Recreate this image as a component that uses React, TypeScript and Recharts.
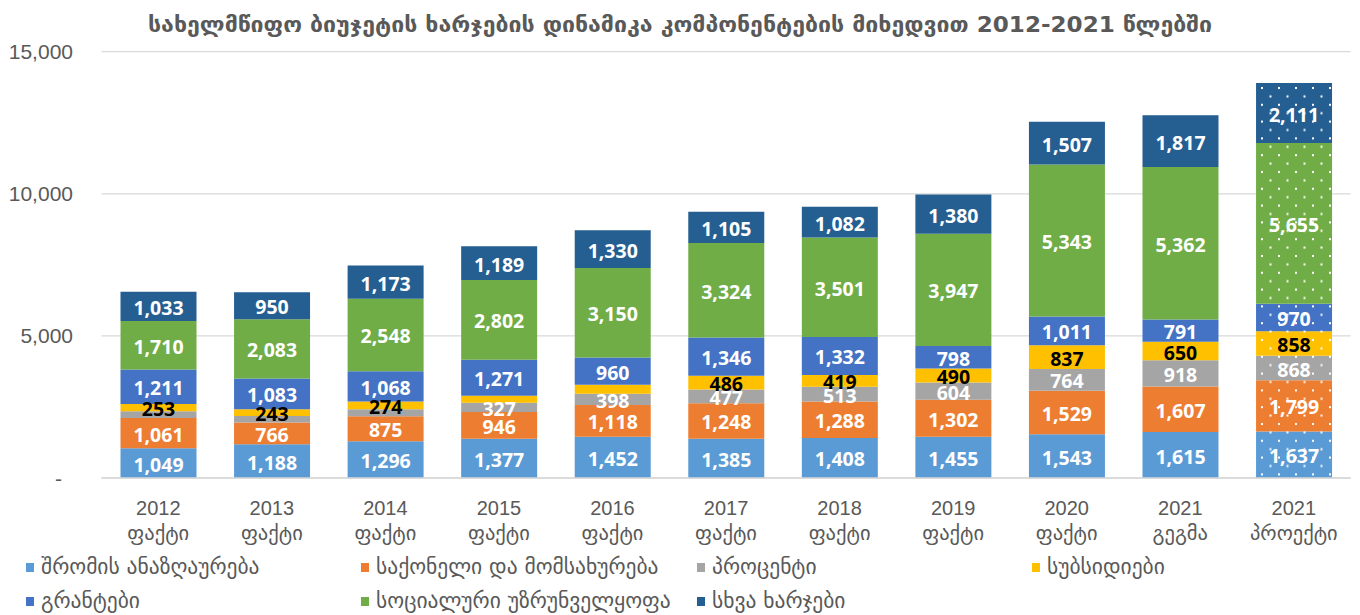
import React from 'react';
import { BarChart, Bar, XAxis, YAxis, CartesianGrid, Cell, LabelList, Legend } from 'recharts';

const years = ['2012', '2013', '2014', '2015', '2016', '2017', '2018', '2019', '2020', '2021', '2021'];
const kinds = ['ფაქტი', 'ფაქტი', 'ფაქტი', 'ფაქტი', 'ფაქტი', 'ფაქტი', 'ფაქტი', 'ფაქტი', 'ფაქტი', 'გეგმა', 'პროექტი'];

const wages = [1049, 1188, 1296, 1377, 1452, 1385, 1408, 1455, 1543, 1615, 1637];
const goods = [1061, 766, 875, 946, 1118, 1248, 1288, 1302, 1529, 1607, 1799];
const interest = [240, 225, 245, 327, 398, 477, 513, 604, 764, 918, 868];
const subsidies = [253, 243, 274, 240, 310, 486, 419, 490, 837, 650, 858];
const grants = [1211, 1083, 1068, 1271, 960, 1346, 1332, 798, 1011, 791, 970];
const social = [1710, 2083, 2548, 2802, 3150, 3324, 3501, 3947, 5343, 5362, 5655];
const other = [1033, 950, 1173, 1189, 1330, 1105, 1082, 1380, 1507, 1817, 2111];

const yTicks = [0, 5000, 10000, 15000];

const seriesKeys = ['wages', 'goods', 'interest', 'subsidies', 'grants', 'social', 'other'];
const seriesNames = [
  'შრომის ანაზღაურება',
  'საქონელი და მომსახურება',
  'პროცენტი',
  'სუბსიდიები',
  'გრანტები',
  'სოციალური უზრუნველყოფა',
  'სხვა ხარჯები',
];
const seriesValues = [wages, goods, interest, subsidies, grants, social, other];
const seriesColors = ['#5B9BD5', '#ED7D31', '#A5A5A5', '#FFC000', '#4472C4', '#70AD47', '#255E91'];
const labelColors = ['#FFFFFF', '#FFFFFF', '#FFFFFF', '#000000', '#FFFFFF', '#FFFFFF', '#FFFFFF'];
// indices of categories whose segment has no data label, per series
const unlabeled: number[][] = [[], [], [0, 1, 2], [3, 4], [], [], []];
// the projected bar is drawn with a dotted fill
const projectedIndex = 10;

const title = 'სახელმწიფო ბიუჯეტის ხარჯების დინამიკა კომპონენტების მიხედვით 2012-2021 წლებში';

const data = years.map((y, i) => {
  const row: Record<string, any> = { name: `${y} ${kinds[i]}`, year: y, kind: kinds[i] };
  seriesKeys.forEach((k, s) => {
    row[k] = seriesValues[s][i];
  });
  return row;
});

const GEO_FONT = "'DejaVu Sans', 'Noto Sans', sans-serif";
const NUM_FONT = "'Liberation Sans', 'DejaVu Sans', sans-serif";

const XTick = (props: any) => {
  const { x, y, payload } = props;
  const d = data[payload.index];
  return (
    <g>
      <text x={x} y={y + 36.5} textAnchor="middle" fill="#595959" fontSize={20} fontFamily={NUM_FONT}>
        {d.year}
      </text>
      <text x={x} y={y + 62} textAnchor="middle" fill="#595959" fontSize={20.5} fontFamily={GEO_FONT}>
        {d.kind}
      </text>
    </g>
  );
};

const YTick = (props: any) => {
  const { x, y, payload } = props;
  const v = payload.value;
  const label = v === 0 ? '-' : v.toLocaleString('en-US');
  return (
    <text
      x={v === 0 ? x - 11 : x}
      y={y}
      textAnchor="end"
      dominantBaseline="central"
      fill="#595959"
      fontSize={21}
      fontFamily={NUM_FONT}
    >
      {label}
    </text>
  );
};

const makeLabel = (s: number) => (props: any) => {
  const { x, y, width, height, value, index } = props;
  if (unlabeled[s].includes(index)) return null;
  return (
    <text
      x={x + width / 2}
      y={y + height / 2 + 1}
      textAnchor="middle"
      dominantBaseline="central"
      fill={labelColors[s]}
      fontSize={19.5}
      fontWeight="bold"
      fontFamily="'Open Sans', 'DejaVu Sans', sans-serif"
    >
      {Number(value).toLocaleString('en-US')}
    </text>
  );
};

const legendCols = [26, 361, 697, 1032];
const legendRowsY = [17, 51];

const LegendContent = () => (
  <div style={{ position: 'relative', width: 1360, height: 65 }}>
    {seriesNames.map((n, s) => {
      const row = s < 4 ? 0 : 1;
      const col = s < 4 ? s : s === 4 ? 0 : s === 5 ? 1 : 2;
      return (
        <div
          key={n}
          style={{
            position: 'absolute',
            left: legendCols[col],
            top: legendRowsY[row] - 13,
            height: 26,
            display: 'flex',
            alignItems: 'center',
            whiteSpace: 'nowrap',
          }}
        >
          <span style={{ display: 'inline-block', width: 8, height: 9, background: seriesColors[s], marginRight: 7 }} />
          <span style={{ color: '#595959', fontSize: 21.5, fontFamily: GEO_FONT, lineHeight: '26px' }}>{n}</span>
        </div>
      );
    })}
  </div>
);

export default function App() {
  return (
    <div style={{ position: 'absolute', left: 0, top: 0, width: 1360, height: 615, background: '#fff' }}>
      <BarChart
        width={1360}
        height={615}
        data={data}
        margin={{ top: 51.7, right: 9.4, left: 0, bottom: 0 }}
        barSize={76}
      >
        <defs>
          {seriesKeys.map((k, s) => (
            <pattern key={k} id={`dots-${k}`} width={17} height={16.8} patternUnits="userSpaceOnUse">
              <rect width={17} height={16.8} fill={seriesColors[s]} />
              <rect x={3} y={3} width={2} height={2} fill="#FFFFFF" />
              <rect x={11.5} y={11.4} width={2} height={2} fill="#FFFFFF" />
            </pattern>
          ))}
        </defs>
        <CartesianGrid vertical={false} stroke="#D9D9D9" strokeWidth={1.3} />
        <XAxis
          dataKey="name"
          height={72}
          tickLine={false}
          tickSize={0}
          tickMargin={0}
          axisLine={{ stroke: '#D9D9D9', strokeWidth: 1.3 }}
          tick={<XTick />}
          interval={0}
        />
        <YAxis
          width={101.5}
          domain={[0, 15000]}
          ticks={yTicks}
          axisLine={false}
          tickLine={false}
          tickSize={0}
          tickMargin={28.5}
          tick={<YTick />}
          interval={0}
        />
        <Legend
          verticalAlign="bottom"
          align="left"
          wrapperStyle={{ left: 0, bottom: 0, width: 1360, height: 65 }}
          content={<LegendContent />}
        />
        {seriesKeys.map((k, s) => (
          <Bar key={k} dataKey={k} name={seriesNames[s]} stackId="a" fill={seriesColors[s]} isAnimationActive={false}>
            {data.map((_, i) => (
              <Cell key={i} fill={i === projectedIndex ? `url(#dots-${k})` : seriesColors[s]} />
            ))}
            <LabelList dataKey={k} content={makeLabel(s)} />
          </Bar>
        ))}
      </BarChart>
      <svg width={1360} height={50} style={{ position: 'absolute', left: 0, top: 0, pointerEvents: 'none' }}>
        <text
          x={680}
          y={32}
          textAnchor="middle"
          fill="#595959"
          fontSize={22}
          fontWeight="bold"
          fontFamily={GEO_FONT}
          textLength={1064}
          lengthAdjust="spacingAndGlyphs"
        >
          {title}
        </text>
      </svg>
    </div>
  );
}
